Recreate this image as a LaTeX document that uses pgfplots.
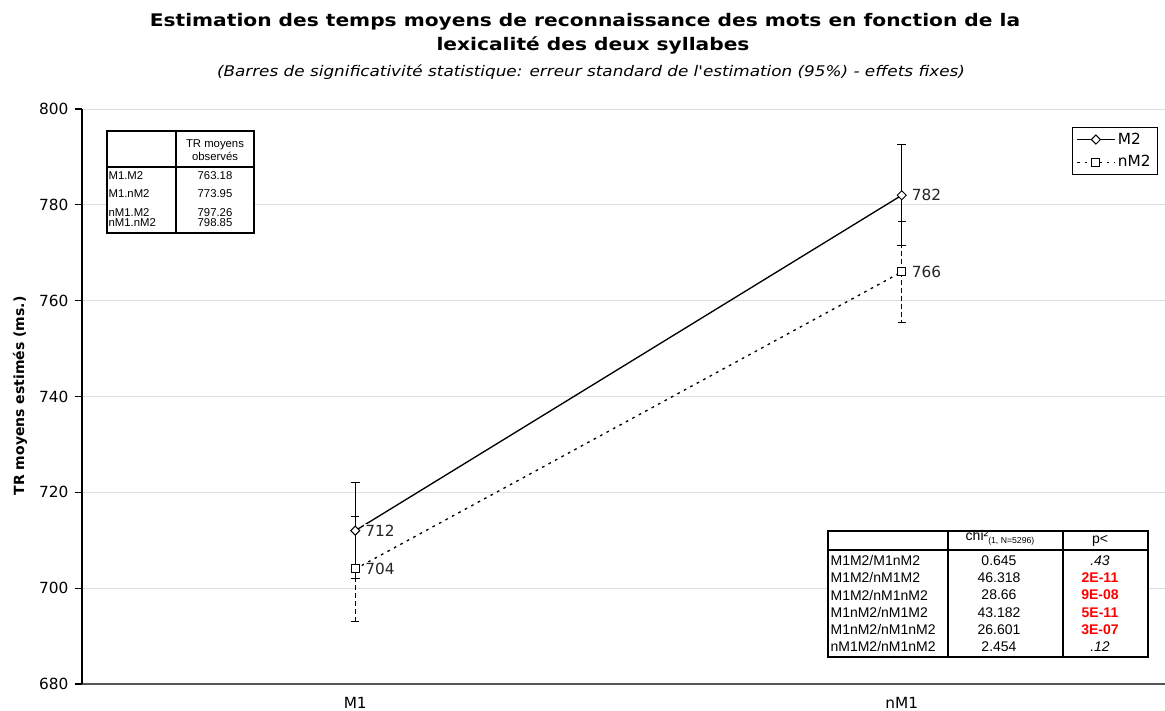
\documentclass[border=0pt]{standalone}
\usepackage{fontspec}
\setmainfont[Ligatures=TeXOff]{DejaVu Sans}
\newfontfamily\arial{Liberation Sans}
\usepackage{graphicx}
\usepackage{pgfplots}
\usepackage{pgfplotstable}
\pgfplotsset{compat=1.18}
\definecolor{gridc}{RGB}{222,222,222}
\definecolor{axc}{RGB}{85,85,85}
\definecolor{pred}{RGB}{255,0,0}

\pgfplotstableread{
x y e lab
1 712 10 712
2 782 10.5 782
}\mtwo
\pgfplotstableread{
x y e lab
1 704 11 704
2 766 10.5 766
}\nmtwo

\begin{document}
\begin{tikzpicture}
\begin{axis}[
  at={(61.5pt,20.25pt)}, anchor=south west,
  scale only axis, width=819.75pt, height=431.25pt,
  xmin=0.5, xmax=2.5, ymin=680, ymax=800,
  axis x line*=bottom, axis y line*=left,
  x axis line style={draw=axc, line width=1.5pt},
  y axis line style={draw=black, line width=0.8pt},
  ytick={680,700,...,800},
  xtick={1,2}, xticklabels={M1,nM1},
  major x tick style={draw=none},
  extra x ticks={1.5}, extra x tick labels={},
  extra x tick style={major tick style={draw=axc, line width=1pt}, major tick length=4pt},
  tick align=outside, major tick length=5.25pt,
  y tick style={black, line width=0.8pt},
  ymajorgrids, grid style={gridc, line width=0.6pt},
  /pgf/number format/assume math mode=true,
  ticklabel style={font=\fontsize{11.5}{13}\selectfont},
  xticklabel style={yshift=-1pt},
  yticklabel style={xshift=-1.5pt},
  ylabel={\bfseries TR moyens estimés (ms.)},
  every axis y label/.style={at={(axis description cs:-0.0567,0.501)}, rotate=90, anchor=center, font=\fontsize{10.5}{12}\selectfont},
  legend style={at={(0.9058,0.9687)}, anchor=north west, draw=black, line width=0.8pt,
    font=\fontsize{11.5}{13}\selectfont, inner xsep=3pt, inner ysep=2pt, row sep=3pt},
  legend cell align=left,
  legend image code/.code={\draw[mark repeat=2,mark phase=2] plot coordinates {(0pt,0pt) (14pt,0pt) (28pt,0pt)};},
  nodes near coords, point meta=explicit symbolic,
  every node near coord/.append style={anchor=west, fill=white, inner sep=1pt, xshift=6.25pt, text=black!85, font=\fontsize{11.5}{13}\selectfont},
]
\addplot[black, line width=1pt, mark=square*, mark size=2.4pt,
  mark options={fill=white, solid, line width=0.75pt, rotate=45},
  error bars/.cd, y dir=both, y explicit,
  error bar style={line width=0.8pt, solid, black},
  error mark options={mark size=3.4pt, line width=0.8pt, black, solid, rotate=90}]
  table[x=x, y=y, y error=e, meta=lab] {\mtwo};
\addlegendentry{M2}
\addplot[black, line width=1pt, dash pattern=on 2pt off 3.5pt, mark=square*, mark size=3pt,
  mark options={fill=white, solid, line width=0.75pt},
  error bars/.cd, y dir=both, y explicit,
  error bar style={line width=0.8pt, dash pattern=on 3.5pt off 2.5pt, black},
  error mark options={mark size=3pt, line width=0.8pt, black, solid, rotate=90}]
  table[x=x, y=y, y error=e, meta=lab] {\nmtwo};
\addlegendentry{nM2}
\end{axis}

\begin{scope}[x=0.75pt, y=-0.75pt, shift={(0pt,533.25pt)}]
  % titles
  \node[font=\bfseries\fontsize{13}{15}\selectfont] at (585,22) {\scalebox{1.165}[1]{Estimation des temps moyens de reconnaissance des mots en fonction de la}};
  \node[font=\bfseries\fontsize{13}{15}\selectfont] at (593,45) {\scalebox{1.165}[1]{lexicalité des deux syllabes}};
  \node[font=\itshape\fontsize{11}{13}\selectfont] at (591,72) {\scalebox{1.147}[1]{(Barres de significativité statistique: erreur standard de l'estimation (95\%) - effets fixes)}};

  % top-left table
  \fill[white] (107,131) rectangle (254,233);
  \draw[line width=1.5pt] (107,131) rectangle (254,233);
  \draw[line width=1.5pt] (107,167) -- (254,167);
  \draw[line width=1.5pt] (176,131) -- (176,233);
  \begin{scope}[every node/.style={font=\arial\fontsize{8.5}{9.75}\selectfont, inner sep=1pt}]
    \node[align=center] at (215,150) {TR moyens\\observés};
    \node[anchor=west] at (107,176) {M1.M2};
    \node[anchor=west] at (107,194) {M1.nM2};
    \node[anchor=west] at (107,212.3) {nM1.M2};
    \node[anchor=west] at (107,222.7) {nM1.nM2};
    \node at (215,176) {763.18};
    \node at (215,194) {773.95};
    \node at (215,212.3) {797.26};
    \node at (215,222.7) {798.85};
  \end{scope}

  % bottom-right table
  \fill[white] (828,531) rectangle (1148,657);
  \draw[line width=1.5pt] (828,531) rectangle (1148,657);
  \draw[line width=1.5pt] (828,550) -- (1148,550);
  \draw[line width=1.5pt] (948,531) -- (948,657);
  \draw[line width=1.5pt] (1063,531) -- (1063,657);
  \begin{scope}[every node/.style={font=\arial\fontsize{10.5}{12}\selectfont, inner sep=1pt}]
    \node at (1000,538) {chi²\raisebox{-0.45ex}{\fontsize{6.5}{7}\selectfont (1, N=5296)}};
    \node at (1100,541) {p<};
    \node[anchor=west] at (829,560.7) {M1M2/M1nM2};
    \node[anchor=west] at (829,577.7) {M1M2/nM1M2};
    \node[anchor=west] at (829,595) {M1M2/nM1nM2};
    \node[anchor=west] at (829,612.3) {M1nM2/nM1M2};
    \node[anchor=west] at (829,629.3) {M1nM2/nM1nM2};
    \node[anchor=west] at (829,646.7) {nM1M2/nM1nM2};
    \node at (999,560.7) {0.645};
    \node at (999,577.7) {46.318};
    \node at (999,595) {28.66};
    \node at (999,612.3) {43.182};
    \node at (999,629.3) {26.601};
    \node at (999,646.7) {2.454};
    \node at (1100,560.7) {\itshape .43};
    \node[text=pred] at (1100,577.7) {\bfseries 2E-11};
    \node[text=pred] at (1100,595) {\bfseries 9E-08};
    \node[text=pred] at (1100,612.3) {\bfseries 5E-11};
    \node[text=pred] at (1100,629.3) {\bfseries 3E-07};
    \node at (1100,646.7) {\itshape .12};
  \end{scope}
\end{scope}

\pgfresetboundingbox
\path[use as bounding box] (0pt,0pt) rectangle (873.75pt,533.25pt);
\end{tikzpicture}
\end{document}
